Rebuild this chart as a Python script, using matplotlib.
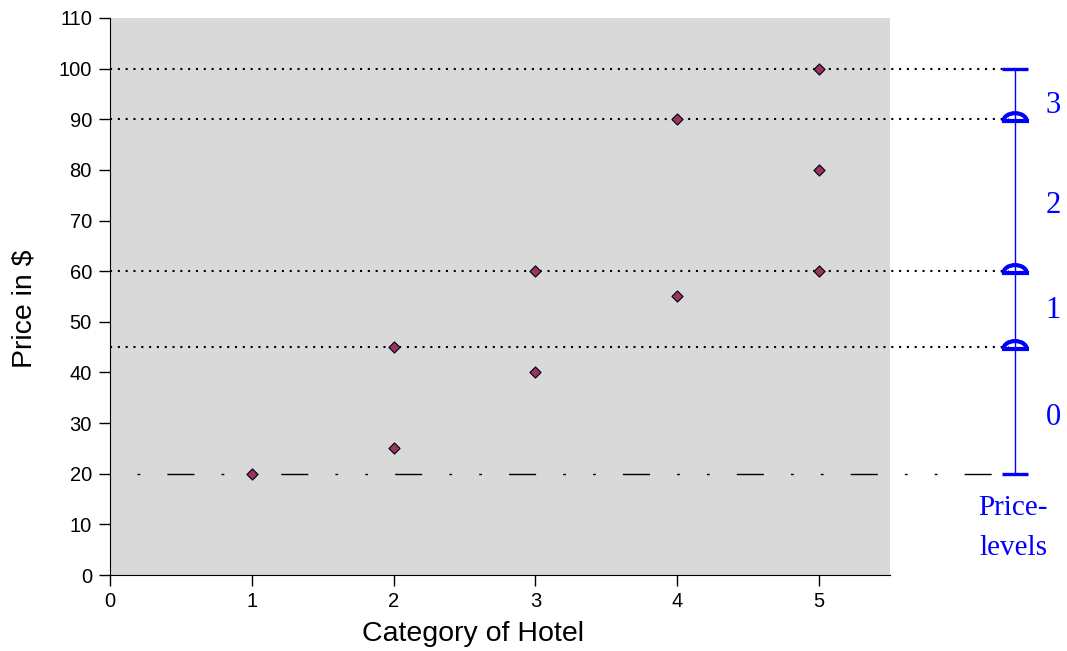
import numpy as np
import matplotlib
matplotlib.use("Agg")
import matplotlib.pyplot as plt
from matplotlib.patches import Arc

# hotel categories and prices
category = [1, 2, 2, 3, 3, 4, 4, 5, 5, 5]
price = [20, 25, 45, 40, 60, 55, 90, 60, 80, 100]

# price level borders (dotted) and the lowest border (dash-dot)
level_borders = [100, 90, 60, 45]
lowest_border = 20
dome_levels = [90, 60, 45]
level_names = ['3', '2', '1', '0']
level_label_y = [92.8, 73, 52.3, 31.2]

plt.rcParams['font.family'] = ['Liberation Sans', 'DejaVu Sans']

fig = plt.figure(figsize=(10.67, 6.51), dpi=100)
ax = fig.add_axes([0.1031, 0.1167, 0.7310, 0.8557])
ax.set_facecolor('#d9d9d9')

ax.set_xlim(0, 5.5)
ax.set_ylim(0, 110)

x_bar = 6.382      # position of the price level scale (outside the axes)
x_end = 6.34

# dotted borders
for y in level_borders:
    ax.plot([0, x_end], [y, y], color='black', lw=1.5, dashes=(1, 2.75),
            clip_on=False, zorder=2)

# dash-dot-dot line at the lowest price
ax.plot([0.19, 6.3], [lowest_border, lowest_border], color='black', lw=1.0,
        dashes=(2, 19.5, 19.5, 19.5, 2, 19.5), clip_on=False, zorder=2)

# data points
ax.scatter(category, price, marker='D', s=32, color='#993366',
           edgecolor='black', linewidth=0.8, zorder=3)

# price level scale
blue = '#0000ff'
ax.plot([x_bar, x_bar], [lowest_border, level_borders[0]], color=blue, lw=1,
        clip_on=False)
for y in [level_borders[0], lowest_border]:
    ax.plot([x_bar - 0.09, x_bar + 0.09], [y, y], color=blue, lw=2.4,
            solid_capstyle='butt', clip_on=False)
for y in dome_levels:
    ax.add_patch(Arc((x_bar, y - 0.4), 0.165, 3.2, theta1=0, theta2=180,
                     color=blue, lw=3, clip_on=False))
    ax.plot([x_bar - 0.095, x_bar + 0.095], [y - 0.4, y - 0.4], color=blue,
            lw=3, solid_capstyle='butt', clip_on=False)

serif = ['Liberation Serif', 'DejaVu Serif']
for name, y in zip(level_names, level_label_y):
    ax.text(6.65, y, name, color=blue, fontsize=22, ha='center', va='center',
            family=serif)
ax.text(6.37, 13.2, 'Price-', color=blue, fontsize=21, ha='center',
        va='center', family=serif)
ax.text(6.37, 5.3, 'levels', color=blue, fontsize=21, ha='center',
        va='center', family=serif)

ax.spines['top'].set_visible(False)
ax.spines['right'].set_visible(False)
ax.set_xticks(range(0, 6))
ax.set_yticks(range(0, 111, 10))
ax.tick_params(direction='out', length=8, width=1, labelsize=14.5)
ax.tick_params(axis='y', pad=5)
ax.tick_params(axis='x', pad=4)

ax.set_xlabel('Category of Hotel', fontsize=20.5)
ax.set_ylabel('Price in $', fontsize=20.5)
ax.xaxis.set_label_coords(0.465, -0.083)
ax.yaxis.set_label_coords(-0.093, 0.478)

fig.savefig('out.png', dpi=100)
